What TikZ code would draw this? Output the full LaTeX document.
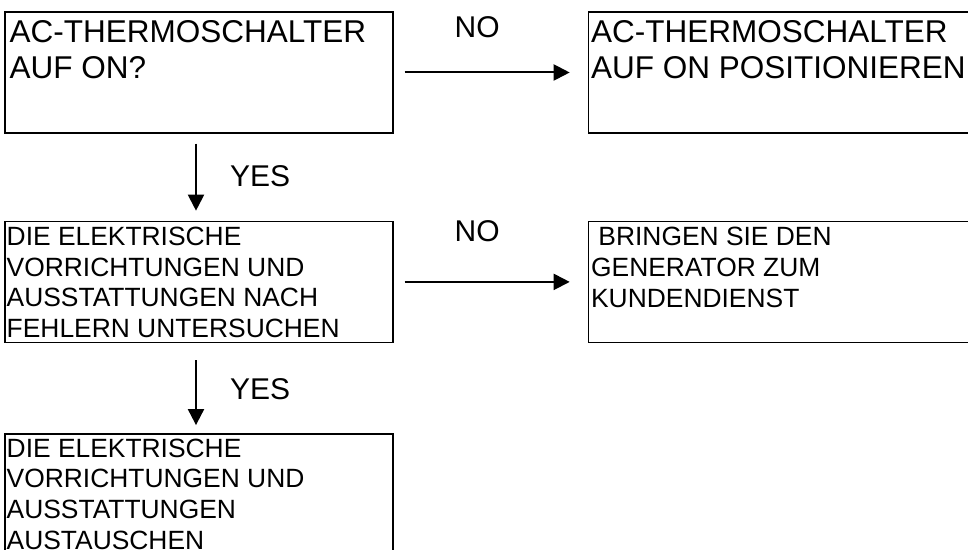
\documentclass[tikz,border=0pt]{standalone}
\usepackage{fontspec}
\setmainfont{Liberation Sans}
\usepackage{tikz}
\usetikzlibrary{arrows.meta,positioning}

\begin{document}
\begin{tikzpicture}[
    x=0.5pt, y=-0.5pt,
    node distance=43.5pt and 97pt,
    box/.style={draw, line width=0.7pt, minimum width=194pt, minimum height=60.5pt, inner sep=0pt},
    bigtext/.style={anchor=base west, align=left, inner sep=0pt, font=\fontsize{15.75pt}{18pt}\selectfont},
    smalltext/.style={anchor=base west, align=left, inner sep=0pt, font=\fontsize{13.2pt}{15.35pt}\selectfont},
    lbl/.style={inner sep=0pt, font=\fontsize{15pt}{18pt}\selectfont},
    arrow/.style={-{Triangle[length=8pt, width=8pt]}, line width=1pt}
  ]
    \clip (0,0) rectangle (968,550);

    \node[box] (b1) at (199,72.5) {};
    \node[box, right=of b1] (b2) {};
    \node[box, below=of b1] (b3) {};
    \node[box, right=of b3] (b4) {};
    \node[box, below=45pt of b3] (b5) {};

    % base of a multi-line node is its last line
    \node[bigtext] (t1) at ([shift={(5,67)}]b1.north west) {AC-THERMOSCHALTER\\AUF ON?};
    \node[bigtext] (t2) at ([shift={(3,67)}]b2.north west) {AC-THERMOSCHALTER\\AUF ON POSITIONIEREN};
    \node[smalltext] (t3) at ([shift={(2,117)}]b3.north west) {DIE ELEKTRISCHE\\VORRICHTUNGEN UND\\AUSSTATTUNGEN NACH\\FEHLERN UNTERSUCHEN};
    \node[smalltext] (t4) at ([shift={(3,86.4)}]b4.north west) {\ BRINGEN SIE DEN\\GENERATOR ZUM\\KUNDENDIENST};
    \node[smalltext] (t5) at ([shift={(2,116)}]b5.north west) {DIE ELEKTRISCHE\\VORRICHTUNGEN UND\\AUSSTATTUNGEN\\AUSTAUSCHEN};

    \draw[arrow, shorten <=5.5pt, shorten >=9pt] (b1.east) -- node[lbl, pos=0.43, anchor=base, yshift=17.25pt] {NO} (b2.west);
    \draw[arrow, shorten <=5.5pt, shorten >=9pt] (b3.east) -- node[lbl, pos=0.43, anchor=base, yshift=20.25pt] {NO} (b4.west);
    \draw[arrow, shorten <=5pt, shorten >=5pt] ([xshift=-1.5pt]b1.south) -- node[lbl, anchor=base west, xshift=16.5pt, yshift=-4.75pt] {YES} ([xshift=-1.5pt]b3.north);
    \draw[arrow, shorten <=8.5pt, shorten >=4pt] ([xshift=-1.5pt]b3.south) -- node[lbl, anchor=base west, xshift=16.5pt, yshift=-5.5pt] {YES} ([xshift=-1.5pt]b5.north);
  \end{tikzpicture}
\end{document}
